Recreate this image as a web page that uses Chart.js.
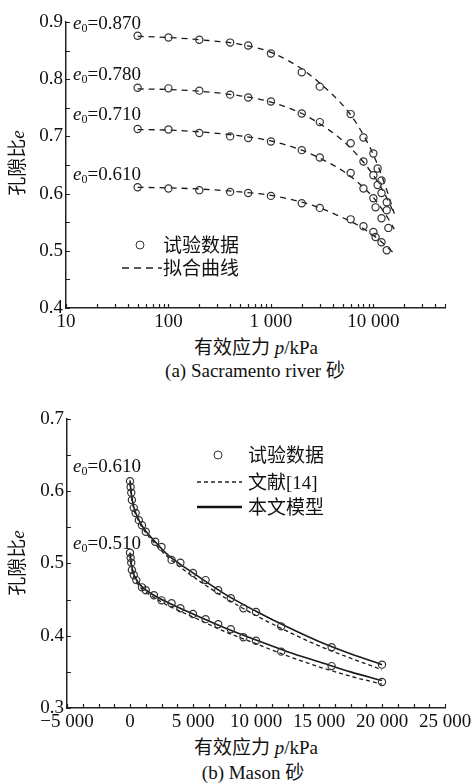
<!DOCTYPE html>
<html lang="zh">
<head>
<meta charset="UTF-8">
<title>孔隙比与有效应力</title>
<script src="https://cdn.jsdelivr.net/npm/chart.js"></script>
<style>
  body { margin: 0; background: #fff; font-family: "Liberation Serif", "Noto Sans CJK SC", serif; color: #111; }
  #page { position: relative; width: 475px; height: 784px; }
  .box { position: absolute; left: 0; }
  .txt { position: absolute; font-size: 19px; line-height: 19px; white-space: nowrap; }
  .mid { transform: translate(-50%, -50%); }
  .ytitle { transform: translate(-50%, -50%) rotate(-90deg); }
  .lab { transform: translateY(-50%); }
  .dot { position: absolute; width: 7px; height: 7px; border: 1.3px solid #333; border-radius: 50%; transform: translate(-50%, -50%); }
  sub { font-size: 12px; vertical-align: -3px; line-height: 0; }
  svg.key { position: absolute; overflow: visible; }
</style>
</head>
<body>
<div id="page">
  <div class="box" style="top:0"><canvas id="chartA" width="475" height="335"></canvas></div>
  <div class="box" style="top:390px"><canvas id="chartB" width="475" height="345"></canvas></div>

  <!-- (a) labels -->
  <div class="txt lab" style="left:73px;top:22px"><i>e</i><sub>0</sub>=0.870</div>
  <div class="txt lab" style="left:73px;top:73px"><i>e</i><sub>0</sub>=0.780</div>
  <div class="txt lab" style="left:73px;top:113px"><i>e</i><sub>0</sub>=0.710</div>
  <div class="txt lab" style="left:73px;top:173px"><i>e</i><sub>0</sub>=0.610</div>
  <div class="txt ytitle" style="left:17px;top:163px">孔隙比<i>e</i></div>
  <div class="dot" style="left:140px;top:245px"></div>
  <div class="txt lab" style="left:163px;top:245px">试验数据</div>
  <svg class="key" style="left:122px;top:268px" width="40" height="1"><line x1="0" y1="0" x2="40" y2="0" stroke="#222" stroke-width="1.3" stroke-dasharray="7 5"/></svg>
  <div class="txt lab" style="left:163px;top:268px">拟合曲线</div>
  <div class="txt mid" style="left:256px;top:347px">有效应力 <i>p</i>/kPa</div>
  <div class="txt mid" style="left:255px;top:370px">(a) Sacramento river 砂</div>

  <!-- (b) labels -->
  <div class="txt lab" style="left:73px;top:465px"><i>e</i><sub>0</sub>=0.610</div>
  <div class="txt lab" style="left:73px;top:542px"><i>e</i><sub>0</sub>=0.510</div>
  <div class="txt ytitle" style="left:17px;top:563px">孔隙比<i>e</i></div>
  <div class="dot" style="left:218px;top:455px"></div>
  <div class="txt lab" style="left:248px;top:455px">试验数据</div>
  <svg class="key" style="left:197px;top:482px" width="45" height="1"><line x1="0" y1="0" x2="45" y2="0" stroke="#222" stroke-width="1.3" stroke-dasharray="4 3"/></svg>
  <div class="txt lab" style="left:248px;top:482px">文献[14]</div>
  <svg class="key" style="left:197px;top:507px" width="45" height="1"><line x1="0" y1="0" x2="45" y2="0" stroke="#111" stroke-width="2.6"/></svg>
  <div class="txt lab" style="left:248px;top:507px">本文模型</div>
  <div class="txt mid" style="left:256px;top:747px">有效应力 <i>p</i>/kPa</div>
  <div class="txt mid" style="left:253px;top:772px">(b) Mason 砂</div>
</div>

<script>
// ---- (a) Sacramento river sand, log pressure axis ----
const aXTicks = [10, 100, 1000, 10000];
const aXLabels = ['10', '100', '1 000', '10 000'];
const aYTicks = [0.4, 0.5, 0.6, 0.7, 0.8, 0.9];
const aYLabels = ['0.4', '0.5', '0.6', '0.7', '0.8', '0.9'];

const pA870 = [50, 100, 200, 400, 600, 1000, 2000, 3000, 6000, 8000, 10000, 11000, 12000, 13500];
const eA870 = [0.876, 0.873, 0.869, 0.864, 0.859, 0.845, 0.812, 0.787, 0.739, 0.698, 0.670, 0.644, 0.623, 0.585];
const pA780 = [50, 100, 200, 400, 600, 1000, 2000, 3000, 6000, 8000, 10000, 11000, 12000, 13500];
const eA780 = [0.785, 0.784, 0.780, 0.773, 0.768, 0.761, 0.740, 0.725, 0.688, 0.656, 0.632, 0.615, 0.601, 0.571];
const pA710 = [50, 100, 200, 400, 600, 1000, 2000, 3000, 6000, 8000, 10000, 10500, 12000, 14000];
const eA710 = [0.713, 0.712, 0.706, 0.700, 0.697, 0.691, 0.676, 0.663, 0.636, 0.609, 0.592, 0.576, 0.557, 0.540];
const pA610 = [50, 100, 200, 400, 600, 1000, 2000, 3000, 6000, 8000, 10000, 10500, 12000, 13500];
const eA610 = [0.611, 0.609, 0.606, 0.603, 0.601, 0.596, 0.583, 0.575, 0.555, 0.543, 0.533, 0.524, 0.515, 0.501];

// fitted curves
const pFit = [50, 100, 200, 500, 1000, 2000, 3000, 5000, 7000, 10000, 13000, 16000];
const fit870 = [0.875, 0.873, 0.869, 0.861, 0.847, 0.818, 0.793, 0.755, 0.720, 0.668, 0.615, 0.565];
const fit780 = [0.783, 0.782, 0.779, 0.771, 0.760, 0.740, 0.722, 0.693, 0.667, 0.632, 0.598, 0.565];
const fit710 = [0.712, 0.711, 0.708, 0.701, 0.692, 0.676, 0.662, 0.640, 0.620, 0.593, 0.565, 0.538];
const fit610 = [0.611, 0.610, 0.608, 0.603, 0.597, 0.585, 0.575, 0.558, 0.545, 0.527, 0.510, 0.495];

// ---- (b) Mason sand, linear pressure axis ----
const bXTicks = [-5000, 0, 5000, 10000, 15000, 20000, 25000];
const bXLabels = ['\u22125 000', '0', '5 000', '10 000', '15 000', '20 000', '25 000'];
const bYTicks = [0.3, 0.4, 0.5, 0.6, 0.7];
const bYLabels = ['0.3', '0.4', '0.5', '0.6', '0.7'];

const pB610 = [0, 50, 100, 150, 300, 450, 700, 950, 1250, 2000, 2500, 3300, 4000, 5000, 6000, 7000, 8000, 9000, 10000, 12000, 16000, 20000];
const eB610 = [0.614, 0.606, 0.598, 0.588, 0.577, 0.570, 0.560, 0.553, 0.544, 0.530, 0.523, 0.505, 0.501, 0.487, 0.477, 0.463, 0.452, 0.438, 0.433, 0.413, 0.384, 0.360];
const pB510 = [0, 50, 100, 150, 300, 500, 950, 1250, 1900, 2500, 3300, 4000, 5000, 6000, 7000, 8000, 9000, 10000, 12000, 16000, 20000];
const eB510 = [0.515, 0.508, 0.501, 0.491, 0.484, 0.477, 0.467, 0.463, 0.456, 0.449, 0.445, 0.438, 0.430, 0.423, 0.416, 0.409, 0.398, 0.393, 0.378, 0.358, 0.336];

const pCurve = [0, 100, 300, 600, 1000, 2000, 3000, 5000, 7500, 10000, 12500, 15000, 17500, 20000];
const model610 = [0.615, 0.597, 0.578, 0.564, 0.551, 0.530, 0.512, 0.487, 0.458, 0.434, 0.412, 0.392, 0.375, 0.360];
const model510 = [0.515, 0.500, 0.485, 0.475, 0.467, 0.455, 0.446, 0.430, 0.411, 0.394, 0.378, 0.364, 0.350, 0.338];
const ref610 = [0.612, 0.594, 0.576, 0.562, 0.549, 0.527, 0.509, 0.482, 0.453, 0.428, 0.406, 0.386, 0.369, 0.353];
const ref510 = [0.512, 0.497, 0.482, 0.472, 0.464, 0.452, 0.442, 0.426, 0.406, 0.389, 0.372, 0.357, 0.344, 0.333];

// minor tick marks
const aXMinor = [];
[10, 100, 1000, 10000].forEach(d => { for (let k = 1; k <= 9; k++) if (d * k <= 50000) aXMinor.push(d * k); });
aXMinor.push(50000);
const aYMinor = [0.4, 0.45, 0.5, 0.55, 0.6, 0.65, 0.7, 0.75, 0.8, 0.85, 0.9];
const bXMinor = [];
for (let v = -5000; v <= 25000; v += 1250) bXMinor.push(v);
const bYMinor = [0.3, 0.35, 0.4, 0.45, 0.5, 0.55, 0.6, 0.65, 0.7];

const FONT = '"Liberation Serif", "Noto Sans CJK SC", serif';
Chart.defaults.font.family = FONT;
Chart.defaults.font.size = 19;
Chart.defaults.color = '#111';

const pts = (ps, es) => ps.map((p, i) => ({ x: p, y: es[i] }));

// ticks drawn inward from the axes
const inwardTicks = {
  id: 'inwardTicks',
  afterDatasetsDraw(chart, args, opts) {
    const { ctx, chartArea } = chart;
    const xs = chart.scales.x, ys = chart.scales.y;
    ctx.save();
    ctx.strokeStyle = '#222';
    ctx.lineWidth = 1.2;
    ctx.beginPath();
    opts.x.forEach(v => {
      const px = Math.round(xs.getPixelForValue(v)) + 0.5;
      ctx.moveTo(px, chartArea.bottom);
      ctx.lineTo(px, chartArea.bottom - 4);
    });
    opts.y.forEach(v => {
      const py = Math.round(ys.getPixelForValue(v)) + 0.5;
      ctx.moveTo(chartArea.left, py);
      ctx.lineTo(chartArea.left + 4, py);
    });
    ctx.stroke();
    ctx.restore();
  }
};

function pointSet(data) {
  return {
    data, showLine: false, pointRadius: 3.6, pointHoverRadius: 3.6,
    pointBorderColor: '#333', pointBorderWidth: 1.2, pointBackgroundColor: 'rgba(255,255,255,0)'
  };
}
function lineSet(data, dash, width) {
  return {
    data, showLine: true, pointRadius: 0, borderColor: '#1a1a1a', borderWidth: width,
    borderDash: dash, cubicInterpolationMode: 'monotone', fill: false
  };
}
function axis(ticks, labels, extra, fit) {
  return Object.assign({
    grid: { display: false, drawTicks: false },
    border: { display: true, color: '#222', width: 1.5 },
    ticks: { autoSkip: false, maxRotation: 0, callback: (v, i) => labels[i] },
    afterBuildTicks: s => { s.ticks = ticks.map(v => ({ value: v })); },
    afterFit: fit
  }, extra);
}

new Chart(document.getElementById('chartA'), {
  type: 'scatter',
  data: {
    datasets: [
      pointSet(pts(pA870, eA870)), pointSet(pts(pA780, eA780)),
      pointSet(pts(pA710, eA710)), pointSet(pts(pA610, eA610)),
      lineSet(pts(pFit, fit870), [6, 5], 1.3), lineSet(pts(pFit, fit780), [6, 5], 1.3),
      lineSet(pts(pFit, fit710), [6, 5], 1.3), lineSet(pts(pFit, fit610), [6, 5], 1.3)
    ]
  },
  options: {
    responsive: false, animation: false, events: [],
    layout: { padding: { top: 22, right: 30, left: 0, bottom: 0 } },
    plugins: { legend: { display: false }, tooltip: { enabled: false },
      inwardTicks: { x: aXMinor, y: aYMinor } },
    scales: {
      x: axis(aXTicks, aXLabels, { type: 'logarithmic', min: 10, max: 50000 }, s => { s.height = 27; }),
      y: axis(aYTicks, aYLabels, { min: 0.4, max: 0.9 }, s => { s.width = 66; })
    }
  },
  plugins: [inwardTicks]
});

new Chart(document.getElementById('chartB'), {
  type: 'scatter',
  data: {
    datasets: [
      pointSet(pts(pB610, eB610)), pointSet(pts(pB510, eB510)),
      lineSet(pts(pCurve, model610), [], 1.6), lineSet(pts(pCurve, model510), [], 1.6),
      lineSet(pts(pCurve, ref610), [4, 3], 1.3), lineSet(pts(pCurve, ref510), [4, 3], 1.3)
    ]
  },
  options: {
    responsive: false, animation: false, events: [],
    layout: { padding: { top: 29, right: 30, left: 0, bottom: 0 } },
    plugins: { legend: { display: false }, tooltip: { enabled: false },
      inwardTicks: { x: bXMinor, y: bYMinor } },
    scales: {
      x: axis(bXTicks, bXLabels, { type: 'linear', min: -5000, max: 25000 }, s => { s.height = 27; }),
      y: axis(bYTicks, bYLabels, { min: 0.3, max: 0.7 }, s => { s.width = 67; })
    }
  },
  plugins: [inwardTicks]
});
</script>
</body>
</html>
